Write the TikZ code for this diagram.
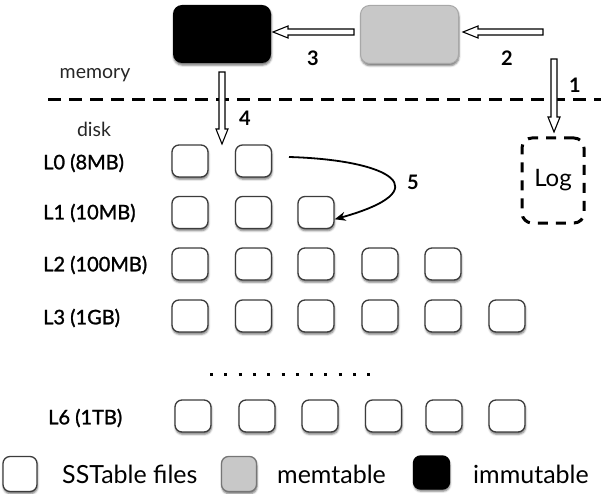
\documentclass[tikz,border=0pt]{standalone}
\usepackage{fontspec}
\setmainfont{Lato}
\newfontfamily\labfont{Lato}[FakeBold=1.3]
\usetikzlibrary{calc,arrows.meta,shadows.blur}
\definecolor{boxline}{HTML}{3C3C3C}
\definecolor{memgray}{HTML}{C8C8C8}
\definecolor{memline}{HTML}{A8A8A8}
\definecolor{softtext}{HTML}{262626}
\tikzset{
  shad/.style={blur shadow={shadow xshift=0.5pt, shadow yshift=-2.2pt, shadow blur radius=2pt, shadow opacity=55}},
  sst/.style={draw=boxline, line width=1.3pt, fill=white, rounded corners=7pt,
    minimum width=36pt, minimum height=32pt, inner sep=0pt, shad},
  bigbox/.style={rounded corners=9pt, minimum width=98pt, minimum height=58pt, inner sep=0pt, shad},
  lvl/.style={anchor=west, inner sep=0pt, font=\labfont\fontsize{20}{24}\selectfont},
  side/.style={inner sep=0pt, text=softtext, font=\fontsize{19.5}{23}\selectfont},
  num/.style={inner sep=0pt, font=\bfseries\fontsize{20}{23}\selectfont},
  legtext/.style={anchor=west, inner sep=0pt, font=\fontsize{25}{30}\selectfont},
  hollow/.style={draw=black, line width=1.1pt, fill=white, line join=miter,
    to path={let \p1=($(\tikztotarget)!15pt!(\tikztostart)$) in
      ($(\tikztostart)!3pt!90:(\tikztotarget)$)
      -- ($(\p1)!3pt!90:(\tikztotarget)$)
      -- ($(\p1)!6pt!90:(\tikztotarget)$)
      -- (\tikztotarget)
      -- ($(\p1)!6pt!-90:(\tikztotarget)$)
      -- ($(\p1)!3pt!-90:(\tikztotarget)$)
      -- ($(\tikztostart)!3pt!-90:(\tikztotarget)$)
      -- cycle}},
  sepline/.style={line width=3pt, dash pattern=on 13pt off 8pt},
  dotline/.style={line width=3pt, dash pattern=on 3pt off 11.3pt},
  logbox/.style={draw=black, line width=3pt, dash pattern=on 10pt off 8pt, rounded corners=10pt,
    minimum width=62pt, minimum height=85pt, inner sep=0pt, font=\fontsize{24}{28}\selectfont},
  curved/.style={line width=1.8pt, -{Stealth[length=11pt, width=9pt]}}
}
\begin{document}
\begin{tikzpicture}[x=1pt, y=-1pt]
\useasboundingbox (0,0) rectangle (601,494);

% memory components
\node[bigbox, fill=black] (imm) at (222,34) {};
\node[bigbox, fill=memgray, draw=memline, line width=1pt] (mem) at (409.5,34.5) {};

% log
\node[logbox] (log) at (553,180.5) {Log};

% separator
\coordinate (sepl) at (48,100);
\coordinate (sepr) at (601,100);
\draw[sepline] (sepl) -- (sepr);
\node[side] (memory) at (95,75) {memory};
\node[side] (disk) at (94,129) {disk};

% hollow arrows
\coordinate (a2s) at (543,32);
\coordinate (a2e) at (463,32);
\draw[hollow] (a2s) to (a2e);
\coordinate (a3s) at (354,32);
\coordinate (a3e) at (273,32);
\draw[hollow] (a3s) to (a3e);
\coordinate (a1s) at (554,59);
\coordinate (a1e) at (554,132);
\draw[hollow] (a1s) to (a1e);
\coordinate (a4s) at (222,72);
\coordinate (a4e) at (222,144);
\draw[hollow] (a4s) to (a4e);

\node[num] (n3) at (313,58) {3};
\node[num] (n2) at (507,58) {2};
\node[num] (n1) at (575,85) {1};
\node[num] (n4) at (245,118) {4};
\node[num] (n5) at (413,182) {5};

% level labels
\node[lvl] (lab0) at (43,163) {L0 (8MB)};
\node[lvl] (lab1) at (43,213) {L1 (10MB)};
\node[lvl] (lab2) at (43,265) {L2 (100MB)};
\node[lvl] (lab3) at (43,318) {L3 (1GB)};
\node[lvl] (lab6) at (48,418) {L6 (1TB)};

% SSTable boxes
\foreach \c/\x in {1/190,2/253.5} \node[sst] (l0\c) at (\x,161) {};
\foreach \c/\x in {1/190,2/253.5,3/316} \node[sst] (l1\c) at (\x,212.5) {};
\foreach \c/\x in {1/190,2/253.5,3/316,4/380,5/443} \node[sst] (l2\c) at (\x,264) {};
\foreach \c/\x in {1/190,2/253.5,3/316,4/380,5/443,6/507} \node[sst] (l3\c) at (\x,316) {};
\foreach \c/\x in {1/193,2/257,3/320,4/383.5,5/444,6/507} \node[sst] (l6\c) at (\x,416) {};

% dotted ellipsis
\coordinate (dl) at (210,374);
\coordinate (dr) at (370,374);
\draw[dotline] (dl) -- (dr);

% compaction arrow 5
\coordinate (c5s) at (289,157);
\draw[curved] (c5s) .. controls (392,160) and (440,190) .. (l13.-20);

% legend
\node[sst, minimum height=35pt, minimum width=34pt] (legw) at (20,474) {};
\node[legtext] (legwt) at (62,474) {SSTable files};
\node[sst, fill=memgray, draw=boxline!70, minimum height=35pt, minimum width=35pt] (legg) at (239,474) {};
\node[legtext] (leggt) at (277,474) {memtable};
\node[sst, fill=black, draw=black, minimum height=33pt, minimum width=36pt] (legb) at (431.5,472.5) {};
\node[legtext] (legbt) at (473,474) {immutable};
\end{tikzpicture}
\end{document}
